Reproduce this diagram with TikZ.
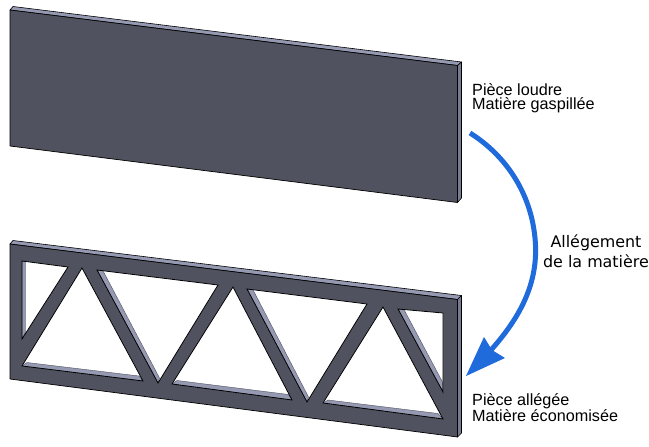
\documentclass[tikz,border=0pt]{standalone}
\usepackage{fontspec}
\setmainfont{DejaVu Sans}
\newfontfamily\labelfont{Liberation Sans}
\definecolor{faceC}{HTML}{50525F}
\definecolor{lightC}{HTML}{9599B2}
\definecolor{sideC}{HTML}{787B92}
\definecolor{arrowC}{HTML}{1F6BDC}
\tikzset{
  face/.style={fill=faceC,draw=black,line width=0.7pt,line join=round},
  lightface/.style={fill=lightC,draw=black,line width=0.6pt,line join=round},
  sideface/.style={fill=sideC,draw=black,line width=0.6pt,line join=round},
  holefill/.style={fill=white,draw=none},
  holeline/.style={draw=black,line width=0.8pt,line join=miter},
  band/.style={fill=lightC,draw=faceC,line width=0.4pt},
  labeltext/.style={font=\labelfont\fontsize{16.2}{14}\selectfont,align=left,anchor=west,inner sep=0pt,text=black},
  centertext/.style={font=\fontsize{15.9}{20}\selectfont,align=center,inner sep=0pt,text=black},
  curvearrow/.style={draw=arrowC,line width=5pt},
  headfill/.style={fill=arrowC,draw=none}
}
\newcommand{\holeshape}[2]{%
  \fill[holefill] #1 -- cycle;
  \filldraw[band] #2 -- cycle;
  \draw[holeline] #1 -- cycle;
}
\begin{document}
\begin{tikzpicture}[x=1pt,y=-1pt]
\useasboundingbox (0,0) rectangle (649,447);
\fill[white] (0,0) rectangle (649,447);
% top plate
\draw[lightface] (10,10) -- (13,6.5) -- (461.5,62) -- (457.5,65.5) -- cycle;
\draw[sideface] (457.5,65.5) -- (461.5,62) -- (461.5,198) -- (457.5,202.5) -- cycle;
\draw[face] (10,10) -- (457.5,65.5) -- (457.5,202.5) -- (10,146) -- cycle;
% lower plate
\draw[lightface] (10,244) -- (13,240.5) -- (461.5,295.5) -- (457.5,299.5) -- cycle;
\draw[sideface] (457.5,299.5) -- (461.5,295.5) -- (461.5,433) -- (457.5,437) -- cycle;
\draw[face] (10,244) -- (457.5,299.5) -- (457.5,437) -- (10,379) -- cycle;
% holes
\holeshape{(22,261) -- (68,267) -- (22,339)}{(22,261) -- (25.5,261.5) -- (25.5,332) -- (22,339)}
\holeshape{(82,268) -- (143,381) -- (22,366)}{(27,362.5) -- (139,376) -- (143,381) -- (22,366)}
\holeshape{(97,270) -- (218,285) -- (158,383)}{(97,270) -- (103,270.8) -- (159.5,378) -- (158,383)}
\holeshape{(233,287) -- (292,400) -- (172,384)}{(177,380.5) -- (288.5,394.5) -- (292,400) -- (172,384)}
\holeshape{(247,289) -- (367,304) -- (307,402)}{(247,289) -- (253,289.8) -- (308.5,397) -- (307,402)}
\holeshape{(383,307) -- (443,419) -- (323,403)}{(328,400) -- (438,413.5) -- (443,419) -- (323,403)}
\holeshape{(398,309) -- (443,313) -- (443,392)}{(398,309) -- (404,309.6) -- (442.5,382) -- (443,392)}
% arrow
\coordinate (arrowstart) at (470,133);
\coordinate (arrowmid) at (534,230);
\coordinate (arrowend) at (491,350);
\draw[curvearrow] (arrowstart) .. controls (505,155) and (528,190) .. (arrowmid)
   .. controls (541,275) and (525,312) .. (arrowend);
\coordinate (tip) at (466,376);
\coordinate (barbA) at (484,337);
\coordinate (barbB) at (505,358);
\coordinate (notch) at (492,350);
\fill[headfill] (tip) -- (barbA) -- (notch) -- (barbB) -- cycle;
% labels
\node[labeltext] (heavy) at (472,98.5) {Pièce loudre\\Matière gaspillée};
\node[labeltext] (light) at (472,407.5) {Pièce allégée\\Matière économisée};
\node[centertext] (lightening) at (596,251) {Allégement\\de la matière};
\end{tikzpicture}
\end{document}
